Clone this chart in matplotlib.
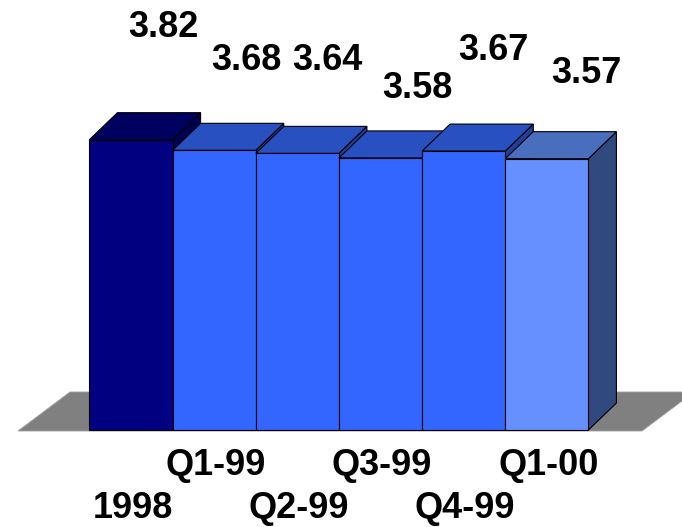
import matplotlib
matplotlib.use("Agg")
import matplotlib.pyplot as plt
from matplotlib.patches import Polygon

# Data
categories = ["1998", "Q1-99", "Q2-99", "Q3-99", "Q4-99", "Q1-00"]
values = [3.82, 3.68, 3.64, 3.58, 3.67, 3.57]

# Styling
front_colors = ["#000080", "#3366FF", "#3366FF", "#3366FF", "#3366FF", "#6690FF"]
top_colors = ["#000060", "#2850C0", "#2850C0", "#2850C0", "#2850C0", "#4A6EBE"]
side_colors = ["#000050", "#20409A", "#20409A", "#20409A", "#20409A", "#30497F"]
# value label placement (baseline) relative to each bar's front-top corner
label_dx = [0.385, 0.382, 0.357, 0.44, 0.352, 0.47]
label_dy = [1.351, 1.057, 1.097, 0.788, 1.198, 0.996]
tick_row = [1, 0, 1, 0, 1, 0]

W, H = 682, 527
fig = plt.figure(figsize=(W / 100, H / 100), dpi=100)
ax = fig.add_axes([0, 0, 1, 1])

# one x unit = one bar width (83.17 px), one y unit = 76 px; baseline at 430 px
xu, yu = 83.17, 76.0
x0px, y0px = 131.0, 430.0
ax.set_xlim(-x0px / xu, (W - x0px) / xu)
ax.set_ylim(-(H - y0px) / yu, y0px / yu)
ax.axis("off")

bar_w = 1.0
ddx, ddy = 28 / xu, 27 / yu  # depth offset of the 3D extrusion

# gray floor
fl_front_l, fl_front_r = (18 - x0px) / xu, (642 - x0px) / xu
fl_dx, fl_dy = 52 / xu, 39 / yu
fl_y = -1 / yu
floor = Polygon([(fl_front_l, fl_y), (fl_front_r, fl_y),
                 (fl_front_r + fl_dx, fl_y + fl_dy), (fl_front_l + fl_dx, fl_y + fl_dy)],
                closed=True, facecolor="#808080", edgecolor="#A0A0A0", lw=0.6, zorder=1)
ax.add_patch(floor)

tick_base = [(y0px - 475) / yu, (y0px - 518) / yu]
font = dict(fontsize=26, fontweight="bold", family="Liberation Sans", color="black", zorder=3)

for i, v in enumerate(values):
    L = i - bar_w / 2
    R = i + bar_w / 2
    side = Polygon([(R, 0), (R + ddx, ddy), (R + ddx, v + ddy), (R, v)],
                   closed=True, facecolor=side_colors[i], edgecolor="black", lw=0.8, zorder=2)
    top = Polygon([(L, v), (R, v), (R + ddx, v + ddy), (L + ddx, v + ddy)],
                  closed=True, facecolor=top_colors[i], edgecolor="black", lw=0.8, zorder=2)
    front = Polygon([(L, 0), (R, 0), (R, v), (L, v)],
                    closed=True, facecolor=front_colors[i], edgecolor="black", lw=0.8, zorder=2)
    for p in (side, top, front):
        ax.add_patch(p)
    ax.text(i + label_dx[i], v + label_dy[i], f"{v:.2f}", ha="center", va="baseline", **font)
    ax.text(i + 1.5 / xu, tick_base[tick_row[i]], categories[i], ha="center", va="baseline", **font)

fig.savefig("out.png", dpi=100)
